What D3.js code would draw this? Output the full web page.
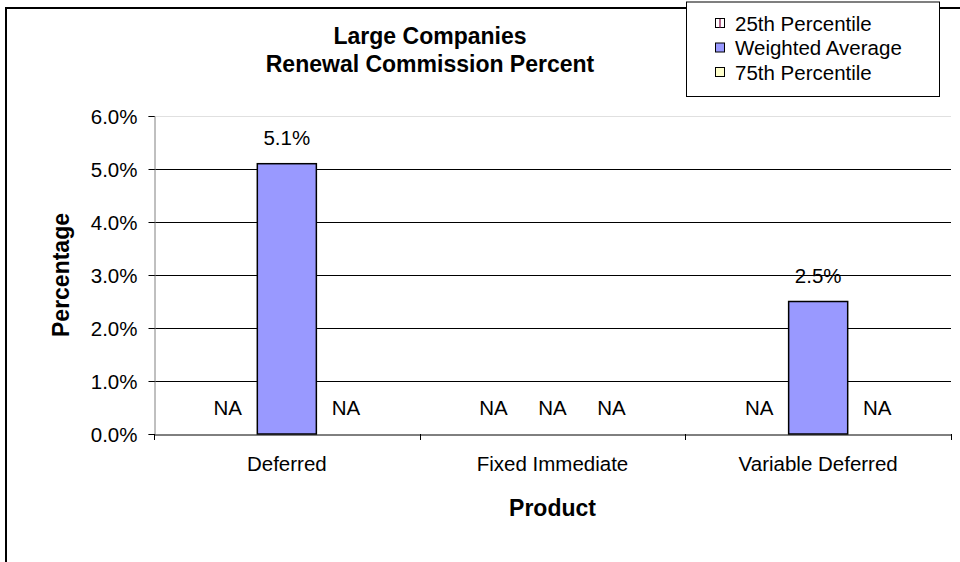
<!DOCTYPE html>
<html>
<head>
<meta charset="utf-8">
<script src="https://cdn.jsdelivr.net/npm/d3@7/dist/d3.min.js"></script>
<style>
  html, body { margin: 0; padding: 0; background: #fff; }
  svg { display: block; font-family: "Liberation Sans", Arial, sans-serif; }
</style>
</head>
<body>
<svg id="chart" width="960" height="562"></svg>
<script>
const categories = ["Deferred", "Fixed Immediate", "Variable Deferred"];
const seriesNames = ["25th Percentile", "Weighted Average", "75th Percentile"];
const p25 = [null, null, null];
const weightedAvg = [5.1, null, 2.5];
const p75 = [null, null, null];
const yTicks = [0, 1, 2, 3, 4, 5, 6];
const titleLines = ["Large Companies", "Renewal Commission Percent"];
const colors = ["#FFFFFF", "#9999FF", "#FFFFCC"];

const series = [p25, weightedAvg, p75];
const FS = 20.5, FB = 23;

const svg = d3.select("#chart");
const plot = { left: 154, right: 951, top: 116, bottom: 434 };

// chart border (extends beyond canvas on right/bottom)
svg.append("rect").attr("x", 6).attr("y", 8).attr("width", 1200).attr("height", 1200)
  .attr("fill", "#fff").attr("stroke", "#000").attr("stroke-width", 2);

const x = d3.scaleBand().domain(categories).range([plot.left, plot.right]).paddingInner(0).paddingOuter(0);
const xs = d3.scaleBand().domain(seriesNames).range([0, x.bandwidth()]).paddingInner(0).paddingOuter(0.75);
const y = d3.scaleLinear().domain([0, 6]).range([plot.bottom, plot.top]);

// gridlines
svg.append("g").selectAll("line").data(yTicks.filter(d => d > 0)).join("line")
  .attr("x1", plot.left).attr("x2", plot.right)
  .attr("y1", d => Math.round(y(d)) + 0.5).attr("y2", d => Math.round(y(d)) + 0.5)
  .attr("stroke", d => d === 6 ? "#e0e0e0" : "#000").attr("stroke-width", 1);

// y axis
const yAxis = svg.append("g").attr("transform", `translate(${plot.left + 0.5},0)`)
  .call(d3.axisLeft(y).tickValues(yTicks).tickSize(6).tickPadding(11).tickFormat(d => d.toFixed(1) + "%"));
yAxis.select(".domain").attr("stroke", "#808080");
yAxis.selectAll(".tick line").attr("stroke", "#000");
yAxis.selectAll("text").attr("font-size", FS).attr("fill", "#000")
  .attr("font-family", "Liberation Sans, Arial, sans-serif").attr("dy", "0.36em");

// x axis
const xAxis = svg.append("g").attr("transform", `translate(0,${Math.round(y(0)) + 0.5})`)
  .call(d3.axisBottom(x).tickSize(0).tickPadding(22));
xAxis.select(".domain").attr("stroke", "#000");
xAxis.selectAll("text").attr("font-size", FS).attr("fill", "#000")
  .attr("font-family", "Liberation Sans, Arial, sans-serif");
// category boundary ticks
svg.append("g").selectAll("line").data(d3.range(categories.length + 1)).join("line")
  .attr("x1", i => Math.round(plot.left + i * x.step()) + 0.5)
  .attr("x2", i => Math.round(plot.left + i * x.step()) + 0.5)
  .attr("y1", y(0)).attr("y2", y(0) + 6)
  .attr("stroke", "#000");

// bars and labels
categories.forEach((cat, ci) => {
  seriesNames.forEach((s, si) => {
    const v = series[si][ci];
    const bx = x(cat) + xs(s);
    const bw = xs.bandwidth();
    if (v != null) {
      svg.append("rect")
        .attr("x", bx).attr("y", y(v))
        .attr("width", bw).attr("height", y(0) - y(v))
        .attr("fill", colors[si]).attr("stroke", "#000").attr("stroke-width", 1.5);
    }
    svg.append("text")
      .attr("x", bx + bw / 2).attr("y", y(v == null ? 0 : v) - 19)
      .attr("text-anchor", "middle").attr("font-size", FS).attr("fill", "#000")
      .text(v == null ? "NA" : v.toFixed(1) + "%");
  });
});

// titles
titleLines.forEach((t, i) => {
  svg.append("text").attr("x", 430).attr("y", 44 + i * 28)
    .attr("text-anchor", "middle").attr("font-size", FB).attr("font-weight", "bold")
    .text(t);
});
svg.append("text").attr("transform", `translate(69,${(plot.top + plot.bottom) / 2}) rotate(-90)`)
  .attr("text-anchor", "middle").attr("font-size", FB).attr("font-weight", "bold").text("Percentage");
svg.append("text").attr("x", (plot.left + plot.right) / 2).attr("y", 516)
  .attr("text-anchor", "middle").attr("font-size", FB).attr("font-weight", "bold").text("Product");

// legend
const lg = svg.append("g");
lg.append("rect").attr("x", 686.5).attr("y", 2).attr("width", 253).attr("height", 94.5)
  .attr("fill", "#fff").attr("stroke", "#000").attr("stroke-width", 1);
seriesNames.forEach((s, i) => {
  const cy = 23 + i * 24.5;
  lg.append("rect").attr("x", 715.5).attr("y", cy - 4.5).attr("width", 9).attr("height", 9)
    .attr("fill", colors[i]).attr("stroke", "#000").attr("stroke-width", 1);
  if (i === 0) {
    lg.append("line").attr("x1", 720).attr("x2", 720).attr("y1", cy - 4).attr("y2", cy + 4.5)
      .attr("stroke", "#993366").attr("stroke-width", 1.5);
  }
  lg.append("text").attr("x", 735).attr("y", cy + 7.5).attr("font-size", FS).text(s);
});
</script>
</body>
</html>
